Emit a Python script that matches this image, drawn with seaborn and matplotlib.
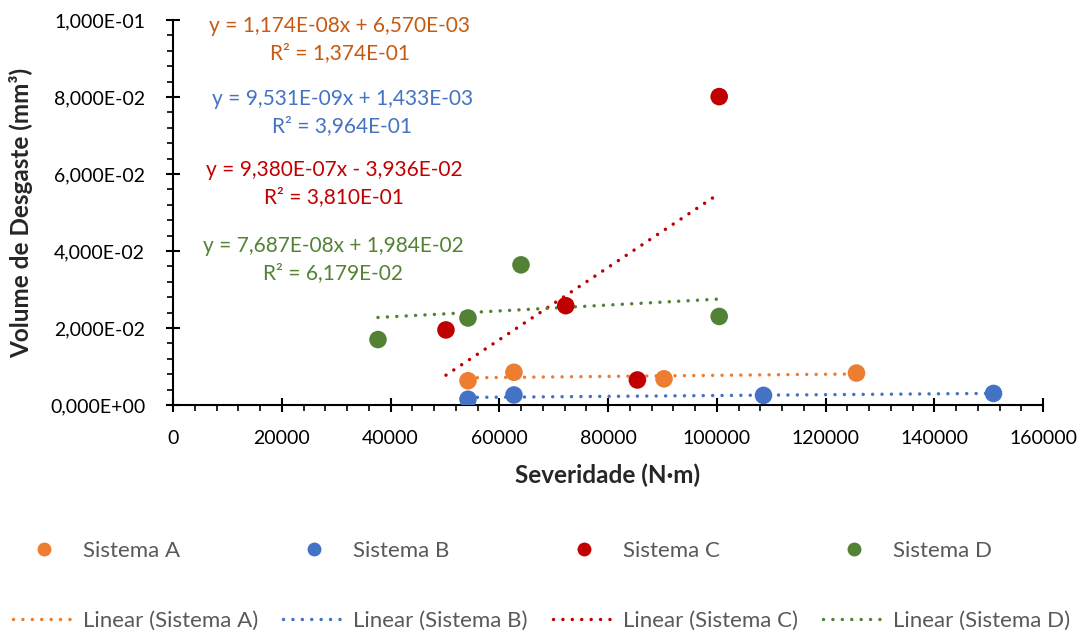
import numpy as np
import pandas as pd
import matplotlib
matplotlib.use("Agg")
import matplotlib.pyplot as plt
from matplotlib.lines import Line2D
from matplotlib.ticker import FuncFormatter, MultipleLocator
import seaborn as sns

# ---------------- data ----------------
systems = ["Sistema A", "Sistema B", "Sistema C", "Sistema D"]
sev_A = [54250, 62700, 90300, 125700]
vol_A = [0.0063, 0.0085, 0.0068, 0.0083]
sev_B = [54250, 62700, 108600, 150900]
vol_B = [0.0015, 0.0026, 0.0025, 0.0030]
sev_C = [50200, 72230, 85400, 100450]
vol_C = [0.0195, 0.0258, 0.0065, 0.0801]
sev_D = [37700, 54250, 64000, 100450]
vol_D = [0.0170, 0.0226, 0.0364, 0.0230]

eq_lines = [
    "y = 1,174E-08x + 6,570E-03\nR² = 1,374E-01",
    "y = 9,531E-09x + 1,433E-03\nR² = 3,964E-01",
    "y = 9,380E-07x - 3,936E-02\nR² = 3,810E-01",
    "y = 7,687E-08x + 1,984E-02\nR² = 6,179E-02",
]

x_label = "Severidade (N·m)"
y_label = "Volume de Desgaste (mm³)"

marker_colors = ["#ED7D31", "#4472C4", "#C00000", "#548235"]
text_colors = ["#C55A11", "#4472C4", "#C00000", "#548235"]

df = pd.DataFrame({
    "Severidade": sev_A + sev_B + sev_C + sev_D,
    "Volume": vol_A + vol_B + vol_C + vol_D,
    "Sistema": sum([[s] * 4 for s in systems], []),
})

# ---------------- style ----------------
sns.set_theme(style="white")
plt.rcParams["font.family"] = ["Lato", "DejaVu Sans"]

fig = plt.figure(figsize=(10.83, 6.35), dpi=100)
ax = fig.add_axes([173 / 1083, 1 - 405 / 635, 870 / 1083, 385 / 635])

LW = 2.5
dot = (0.01, 2.7)
for s, c in zip(systems, marker_colors):
    sub = df[df["Sistema"] == s]
    sns.regplot(data=sub, x="Severidade", y="Volume", scatter=False, ci=None,
                ax=ax, truncate=True,
                line_kws=dict(color=c, lw=LW, linestyle=(0, dot),
                              dash_capstyle="round", zorder=2))

sns.scatterplot(data=df, x="Severidade", y="Volume", hue="Sistema",
                palette=marker_colors, s=160, edgecolor="none",
                legend=False, ax=ax, zorder=3)

ax.set_xlim(0, 160000)
ax.set_ylim(0, 0.1)
ax.xaxis.set_major_locator(MultipleLocator(20000))
ax.xaxis.set_minor_locator(MultipleLocator(4000))
ax.yaxis.set_major_locator(MultipleLocator(0.02))
ax.yaxis.set_minor_locator(MultipleLocator(0.004))
ax.yaxis.set_major_formatter(FuncFormatter(lambda v, p: f"{v:.3E}".replace(".", ",")))
ax.xaxis.set_major_formatter(FuncFormatter(lambda v, p: f"{int(round(v))}"))

for sp in ["top", "right"]:
    ax.spines[sp].set_visible(False)
for sp in ["left", "bottom"]:
    ax.spines[sp].set_color("black")
    ax.spines[sp].set_linewidth(1.5)

ax.tick_params(which="major", direction="inout", length=10, width=1.5,
               color="black", labelsize=14, labelcolor="black")
ax.tick_params(axis="y", which="major", pad=15)
ax.tick_params(axis="x", which="major", pad=13)
ax.tick_params(which="minor", direction="out", length=4, width=1.2,
               color="black")
ax.tick_params(axis="x", which="both", bottom=True)
ax.tick_params(axis="y", which="both", left=True)

ax.set_xlabel(x_label, fontsize=17.5, fontweight="bold", labelpad=12)
ax.set_ylabel(y_label, fontsize=17.5, fontweight="bold", labelpad=12)

# equation labels (centre positions in data coords)
eq_pos = [(30700, 0.1011), (31100, 0.0822), (29600, 0.0636), (29500, 0.0438)]
for (xp, yp), txt, c in zip(eq_pos, eq_lines, text_colors):
    ax.text(xp, yp, txt, color=c, fontsize=15, ha="center", va="top",
            linespacing=1.45)

# legend
handles, labels = [], []
for s, c in zip(systems, marker_colors):
    handles.append(Line2D([], [], marker="o", linestyle="none", color=c,
                          markersize=10, markeredgewidth=0))
    labels.append(s)
    handles.append(Line2D([], [], color=c, lw=LW, linestyle=(0, dot),
                          dash_capstyle="round"))
    labels.append(f"Linear ({s})")

fig.legend(handles, labels, ncol=4, loc="center",
           bbox_to_anchor=(0.5000, 1 - 586 / 635), frameon=False,
           fontsize=16, labelcolor="#595959", handlelength=2.8,
           handletextpad=0.35, columnspacing=1.12, labelspacing=2.25,
           borderpad=0)

fig.savefig("out.png", dpi=100)
